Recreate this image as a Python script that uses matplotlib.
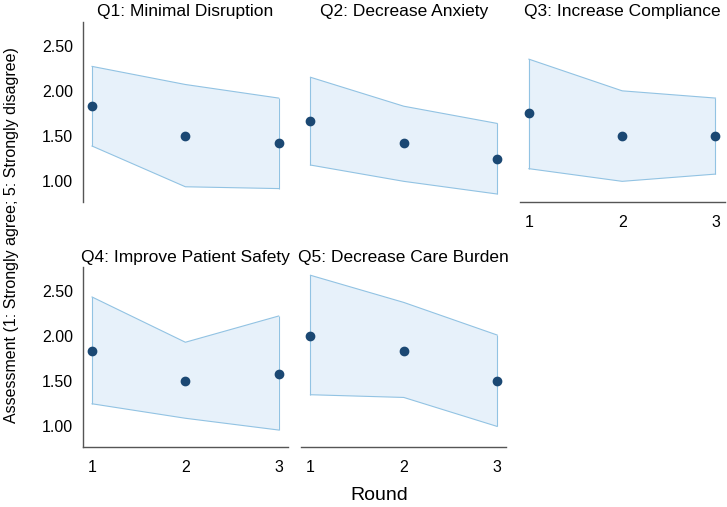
import matplotlib
matplotlib.use("Agg")
import matplotlib.pyplot as plt
from matplotlib.ticker import FormatStrFormatter

plt.rcParams["font.family"] = ["Liberation Sans", "DejaVu Sans"]

ROUNDS = [1, 2, 3]
TITLES = [
    "Q1: Minimal Disruption",
    "Q2: Decrease Anxiety",
    "Q3: Increase Compliance",
    "Q4: Improve Patient Safety",
    "Q5: Decrease Care Burden",
]
# mean per round
MEANS = [
    [1.83, 1.50, 1.42],
    [1.67, 1.42, 1.25],
    [1.75, 1.50, 1.50],
    [1.83, 1.50, 1.58],
    [2.00, 1.83, 1.50],
]
# band (upper / lower) per round
UPPER = [
    [2.27, 2.07, 1.92],
    [2.15, 1.83, 1.64],
    [2.35, 2.00, 1.92],
    [2.43, 1.93, 2.22],
    [2.67, 2.37, 2.01],
]
LOWER = [
    [1.39, 0.94, 0.92],
    [1.18, 1.00, 0.86],
    [1.14, 1.00, 1.08],
    [1.25, 1.09, 0.96],
    [1.35, 1.32, 1.00],
]

FILL = "#e7f1fa"
EDGE = "#92c3e3"
DOT = "#1b4873"
SPINE = "#555555"

fig, axes = plt.subplots(2, 3, figsize=(7.27, 5.07), dpi=100, sharey=True)
fig.subplots_adjust(left=0.1138, right=0.997, top=0.9566, bottom=0.1178,
                    wspace=0.064, hspace=0.36)
axes = axes.ravel()
axes[5].set_visible(False)

for i, ax in enumerate(axes[:5]):
    ax.fill_between(ROUNDS, LOWER[i], UPPER[i], facecolor=FILL,
                    edgecolor="none", zorder=1)
    ax.plot(ROUNDS, UPPER[i], color=EDGE, lw=0.8, zorder=2)
    ax.plot(ROUNDS, LOWER[i], color=EDGE, lw=0.8, zorder=2)
    ax.vlines([ROUNDS[0], ROUNDS[-1]], [LOWER[i][0], LOWER[i][-1]],
              [UPPER[i][0], UPPER[i][-1]], color=EDGE, lw=0.8, zorder=2)
    ax.scatter(ROUNDS, MEANS[i], s=36, color=DOT, zorder=3)
    ax.set_title(TITLES[i], fontsize=12.5, pad=4)

    ax.set_xticks(ROUNDS)
    ax.set_yticks([1.0, 1.5, 2.0, 2.5])
    ax.yaxis.set_major_formatter(FormatStrFormatter("%.2f"))
    ax.tick_params(length=0, labelsize=11.5)
    ax.tick_params(axis="y", pad=7)
    ax.tick_params(axis="x", pad=9)

    for s in ax.spines.values():
        s.set_visible(False)
        s.set_color(SPINE)
        s.set_linewidth(1.0)
    if i in (0, 3):
        ax.spines["left"].set_visible(True)
    if i in (2, 3, 4):
        ax.spines["bottom"].set_visible(True)
    else:
        ax.tick_params(axis="x", labelbottom=False)

fig.text(12 / 727, 0.537, "Assessment (1: Strongly agree; 5: Strongly disagree)",
         rotation=90, ha="center", va="center", fontsize=11.5)
fig.text(0.521, 0.022, "Round", ha="center", va="center", fontsize=14)

fig.savefig("out.png", dpi=100)
